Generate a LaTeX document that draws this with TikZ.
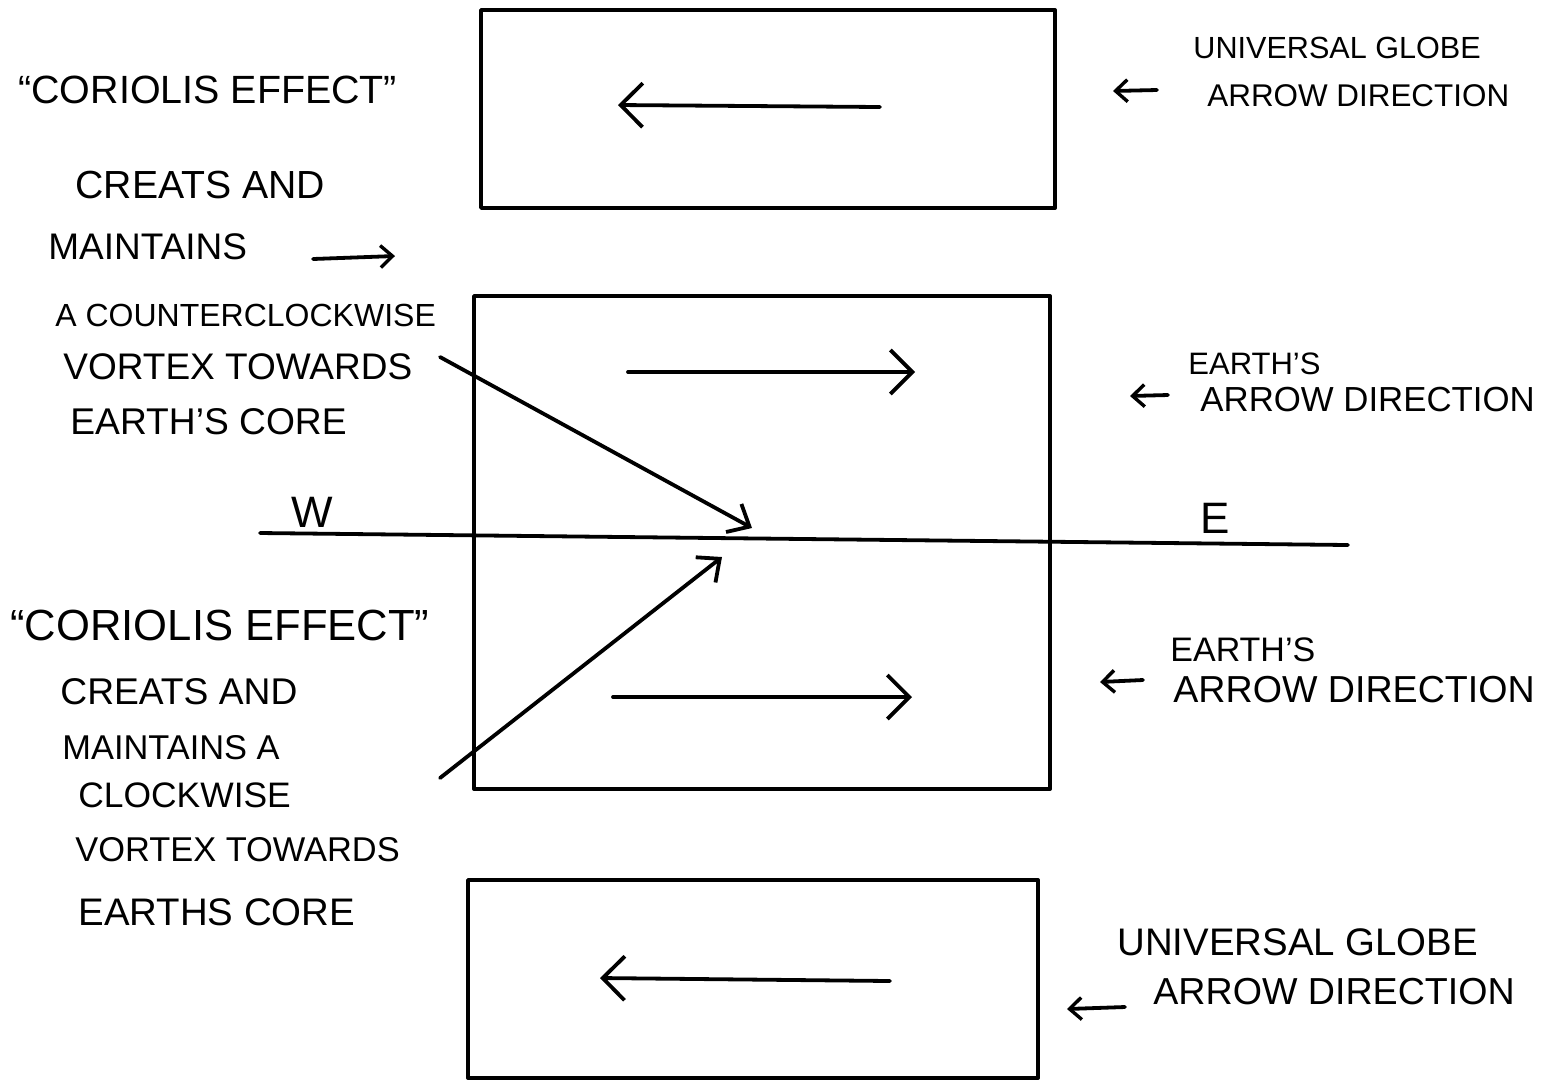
\documentclass[tikz,border=0pt]{standalone}
\usepackage{fontspec}
\setmainfont{Liberation Sans}
\usetikzlibrary{arrows.meta}
\begin{document}
\begin{tikzpicture}[x=0.5pt,y=-0.5pt,
  ink/.style={line width=1.9pt,line cap=round,line join=round},
  boxr/.style={ink,draw},
  barb/.style={ink,-{Straight Barb[length=11pt,width=22pt,line width=1.9pt]}},
  diagbarb/.style={ink,-{Straight Barb[length=9pt,width=16pt,line width=1.9pt]}},
  smallbarb/.style={ink,-{Straight Barb[length=6pt,width=11pt,line width=1.7pt]}},
  fs/.style={font=\fontsize{#1}{#1}\selectfont,inner sep=0pt}]
\useasboundingbox (0,0) rectangle (1551,1089);
\fill[white] (0,0) rectangle (1551,1089);
% boxes
\draw[boxr] (481,10) rectangle (1055,208);
\draw[boxr] (474,296) rectangle (1050,789);
\draw[boxr] (468,880) rectangle (1038,1078);
% arrows in boxes
\coordinate (a1s) at (880,107); \coordinate (a1e) at (618,105);
\coordinate (a2s) at (628,372); \coordinate (a2e) at (915,372);
\coordinate (a3s) at (613,697); \coordinate (a3e) at (912,697);
\coordinate (a4s) at (890,981); \coordinate (a4e) at (600,978);
\draw[barb] (a1s) -- (a1e);
\draw[barb] (a2s) -- (a2e);
\draw[barb] (a3s) -- (a3e);
\draw[barb] (a4s) -- (a4e);
% equator line
\coordinate (wl) at (260,533); \coordinate (er) at (1348,545);
\draw[ink] (wl) -- (er);
\node[fs=22] (W) at (312,512) {W};
\node[fs=22] (E) at (1215,518) {E};
% diagonal arrows
\coordinate (d1s) at (440,357); \coordinate (d1e) at (752,528);
\coordinate (d2s) at (440,778); \coordinate (d2e) at (722,557);
\draw[diagbarb] (d1s) -- (d1e);
\draw[diagbarb] (d2s) -- (d2e);
% left texts top
\node[fs=19.7,anchor=west] (t1) at (18,90) {“CORIOLIS EFFECT”};
\node[fs=19.6,anchor=west] (t2) at (75,185) {CREATS AND};
\node[fs=18.5,anchor=west] (t3) at (48,247) {MAINTAINS};
\coordinate (m1) at (313,259); \coordinate (m2) at (395,256);
\draw[smallbarb] (m1) -- (m2);
\node[fs=16,anchor=west] (t4) at (55,315) {A COUNTERCLOCKWISE};
\node[fs=18.5,anchor=west] (t5) at (63,367) {VORTEX TOWARDS};
\node[fs=18.6,anchor=west] (t6) at (70,422) {EARTH'S CORE};
% left texts bottom
\node[fs=21.8,anchor=west] (b1) at (10,625) {“CORIOLIS EFFECT”};
\node[fs=18.6,anchor=west] (b2) at (60,692) {CREATS AND};
\node[fs=17.2,anchor=west] (b3) at (62,748) {MAINTAINS A};
\node[fs=17.7,anchor=west] (b4) at (78,795) {CLOCKWISE};
\node[fs=17.2,anchor=west] (b5) at (75,850) {VORTEX TOWARDS};
\node[fs=19.2,anchor=west] (b6) at (78,912) {EARTHS CORE};
% right labels
\node[fs=15.3,anchor=west] (r1a) at (1193,48) {UNIVERSAL GLOBE};
\node[fs=15.7,anchor=west] (r1b) at (1207,96) {ARROW DIRECTION};
\coordinate (r1s) at (1157,90); \coordinate (r1e) at (1113,91);
\draw[smallbarb] (r1s) -- (r1e);
\node[fs=15.5,anchor=west] (r2a) at (1188,364) {EARTH'S};
\node[fs=17.4,anchor=west] (r2b) at (1200,400) {ARROW DIRECTION};
\coordinate (r2s) at (1168,395); \coordinate (r2e) at (1130,396);
\draw[smallbarb] (r2s) -- (r2e);
\node[fs=17,anchor=west] (r3a) at (1170,650) {EARTH'S};
\node[fs=18.8,anchor=west] (r3b) at (1173,690) {ARROW DIRECTION};
\coordinate (r3s) at (1143,680); \coordinate (r3e) at (1100,682);
\draw[smallbarb] (r3s) -- (r3e);
\node[fs=19.2,anchor=west] (r4a) at (1117,942) {UNIVERSAL GLOBE};
\node[fs=18.8,anchor=west] (r4b) at (1153,992) {ARROW DIRECTION};
\coordinate (r4s) at (1125,1007); \coordinate (r4e) at (1067,1009);
\draw[smallbarb] (r4s) -- (r4e);
\end{tikzpicture}
\end{document}
